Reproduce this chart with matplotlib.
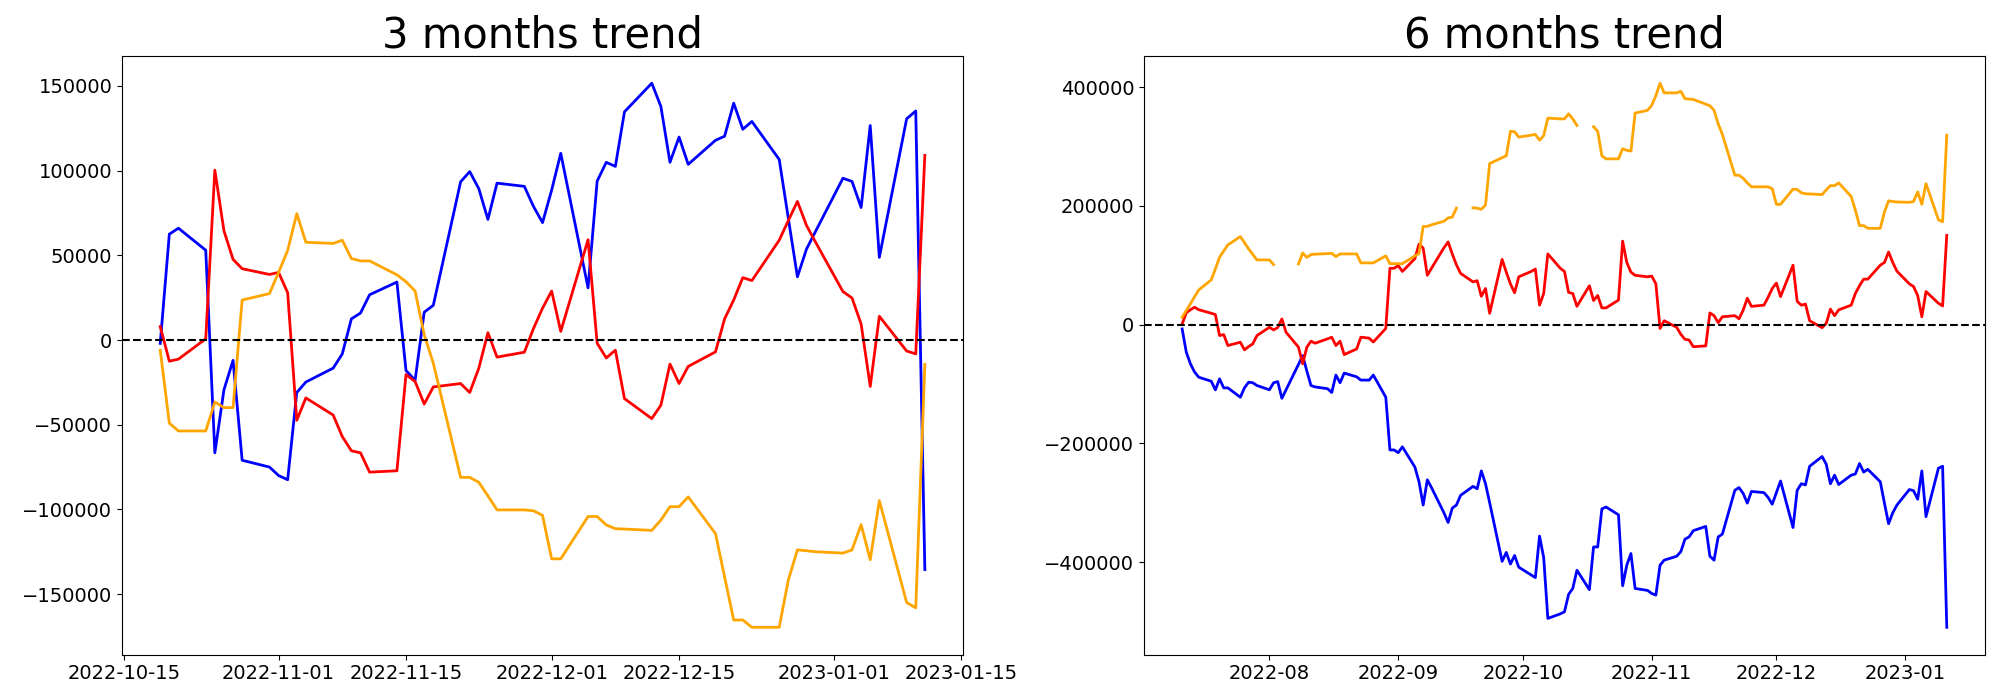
import matplotlib
matplotlib.use('Agg')
import matplotlib.pyplot as plt
import numpy as np
import pandas as pd

nan = np.nan

# 3 months: business days 2022-10-19 .. 2023-01-11
dates_3m = pd.bdate_range('2022-10-19', '2023-01-11')

blue_3m = [-2000, 62500, 66000,
           53000, -66600, -29400, -12000, -71000,
           -75000, -80000, -82500, -31000, -24800,
           -16600, -8200, 12500, 15900, 26700,
           34200, -18000, -23800, 16400, 20500,
           93400, 99400, 89300, 71200, 92600,
           90700, 78900, 69300, 88500, 110200,
           30800, 93800, 104900, 102500, 134700,
           151600, 137900, 104900, 119800, 103700,
           117900, 120300, 139800, 124400, 129000,
           106600, 71900, 37300, 53700, 64200,
           95500, 93600, 78200, 126600, 48800,
           130600, 135200, -135500]

red_3m = [7900, -12500, -11300,
          700, 100300, 64500, 47600, 42100,
          38700, 39900, 27900, -47400, -34200,
          -44300, -57000, -65400, -66600, -78000,
          -77200, -20400, -24500, -37800, -27700,
          -25700, -31000, -16600, 4300, -10100,
          -7200, 6700, 18800, 28900, 5100,
          59200, -1900, -10600, -6000, -34600,
          -46400, -38500, -14200, -25700, -15600,
          -7000, 12500, 23600, 36800, 35100,
          58900, 70500, 81800, 67600, 57700,
          28600, 24800, 9400, -27400, 14000,
          -6500, -8200, 109000]

orange_3m = [-6000, -49100, -53700,
             -53700, -36600, -39900, -39900, 23600,
             27400, 39900, 52900, 74600, 57700,
             57000, 58900, 48100, 46700, 46700,
             38500, 34400, 28900, 3100, -13700,
             -81100, -81100, -84000, -92000, -100300,
             -100300, -100800, -103500, -129200, -129200,
             -104200, -104200, -109200, -111400, -111600,
             -112400, -106300, -98400, -98400, -92600,
             -114300, -139800, -165300, -165300, -169600,
             -169600, -141700, -123900, -124400, -125000,
             -125800, -123900, -109000, -129700, -94800,
             -155000, -158100, -14400]

# 6 months: business days 2022-07-11 .. 2023-01-11
dates_6m = pd.bdate_range('2022-07-11', '2023-01-11')

blue_6m = [-7300, -46600, -66200, -80000, -88600,
           -95400, -110000, -91400, -106600, -106600,
           -122300, -106500, -97000, -98000, -102600,
           -109800, -98000, -96100, -124200, -110000,
           -67000, -52200, -78000, -102600, -105000,
           -108000, -114400, -85000, -98000, -81700,
           -88000, -93500, -93500, -93500, -85000,
           -122200, -211100, -211100, -215700, -205900,
           -239900, -264700, -303900, -261400, -274500,
           -317000, -333300, -309200, -303900, -287600,
           -272500, -276500, -246400, -268000, -300000,
           -398700, -383700, -403300, -388900, -408500,
           -421600, -426100, -356200, -392200, -494800,
           -487200, -483700, -454300, -444400, -413700,
           -446400, -374500, -374500, -310500, -307200,
           -320300, -439900, -405200, -385600, -444400,
           -447700, -452900, -455600, -405200, -396700,
           -390200, -382400, -361400, -357500, -347100,
           -339900, -390200, -396700, -357500, -352900,
           -279100, -274500, -284300, -300700, -281000,
           -283000, -291000, -302600, -283000, -263400,
           -341800, -279100, -268000, -270000, -238600,
           -222200, -235300, -268000, -253600, -269300,
           -253600, -251600, -234000, -248400, -243800,
           -264700, -300700, -335300, -317000, -304000,
           -277800, -279700, -294100, -246400, -323500,
           -241800, -238600, -509800]

red_6m = [1000, 20000, 25000, 29200, 25000,
          19100, 16800, -18500, -16800, -35300,
          -29700, -42600, -37000, -32500, -18500,
          -4500, -9000, -5000, 9500, -12900,
          -38100, -66100, -38100, -28000, -31400,
          -24000, -21300, -35300, -28000, -50500,
          -41000, -21300, -22000, -22900, -29400,
          -6500, 94800, 94800, 99300, 89500,
          111100, 135300, 128800, 83000, 94800,
          129400, 139200, 119000, 100700, 86300,
          71900, 73900, 47700, 60800, 19000,
          109800, 88200, 68600, 53600, 80400,
          89500, 93500, 32700, 52300, 119000,
          94800, 89500, 54200, 52300, 30700,
          65400, 40500, 49000, 28100, 28100,
          41200, 140500, 104600, 88200, 83000,
          80400, 81700, 68600, -6500, 6500,
          -4600, -16300, -24800, -26100, -37300,
          -35900, 19600, 15000, 3300, 13100,
          15000, 9800, 24200, 44400, 30700,
          32700, 46000, 60800, 69900, 47100,
          100000, 39200, 32700, 34600, 6500,
          -5200, 2000, 26100, 15000, 24800,
          32700, 52300, 65400, 76500, 76500,
          100000, 104600, 122200, 104600, 90000,
          68600, 64100, 49000, 13100, 55600,
          35900, 31400, 150300]

orange_6m = [12300, 23600, 35000, 47000, 58400,
             75200, 93700, 113400, 124000, 134200,
             148200, 138000, 127400, 118000, 108900,
             108900, 101000, nan, nan, nan,
             102200, 120700, 113100, 117900, 118500,
             119500, 120100, 114500, 119000, 119000,
             119000, 103900, 103900, 103900, 103900,
             115700, 102600, 102600, 102600, 102600,
             115700, 119600, 165400, 165400, 168000,
             174000, 179700, 181000, 196100, nan,
             196700, 196000, 194100, 201300, 271200,
             281000, 284300, 325500, 324800, 315700,
             319000, 320300, 310500, 318300, 347700,
             346400, 346400, 354900, 346400, 335300,
             nan, 333300, 325500, 284300, 279100,
             279100, 296100, 293500, 292200, 356200,
             360800, 369300, 385600, 406500, 390200,
             390200, 392800, 380400, 379700, 379100,
             371200, 368600, 360800, 337900, 320300,
             251600, 251600, 246400, 238600, 232000,
             232000, 232000, 228800, 202600, 202600,
             228100, 227500, 222000, 220300, 220000,
             219000, 226800, 234000, 234000, 238600,
             215700, 192800, 166700, 166700, 162100,
             162100, 189500, 208500, 207200, 206500,
             205900, 207200, 223500, 202600, 237300,
             176500, 173200, 319000]

fig, axes = plt.subplots(1, 2, figsize=(20, 7), dpi=100)

panels = [(dates_3m, blue_3m, red_3m, orange_3m, '3 months trend'),
          (dates_6m, blue_6m, red_6m, orange_6m, '6 months trend')]

for ax, (d, b, r, o, title) in zip(axes, panels):
    ax.plot(d, b, color='blue', linewidth=2)
    ax.plot(d, r, color='red', linewidth=2)
    ax.plot(d, o, color='orange', linewidth=2)
    ax.axhline(0, color='black', linestyle='--', linewidth=1.5)
    ax.set_title(title, fontsize=30)
    ax.tick_params(axis='both', labelsize=14)

fig.subplots_adjust(left=0.061, right=0.9925, bottom=0.065, top=0.92, wspace=0.215)
plt.savefig('out.png')
